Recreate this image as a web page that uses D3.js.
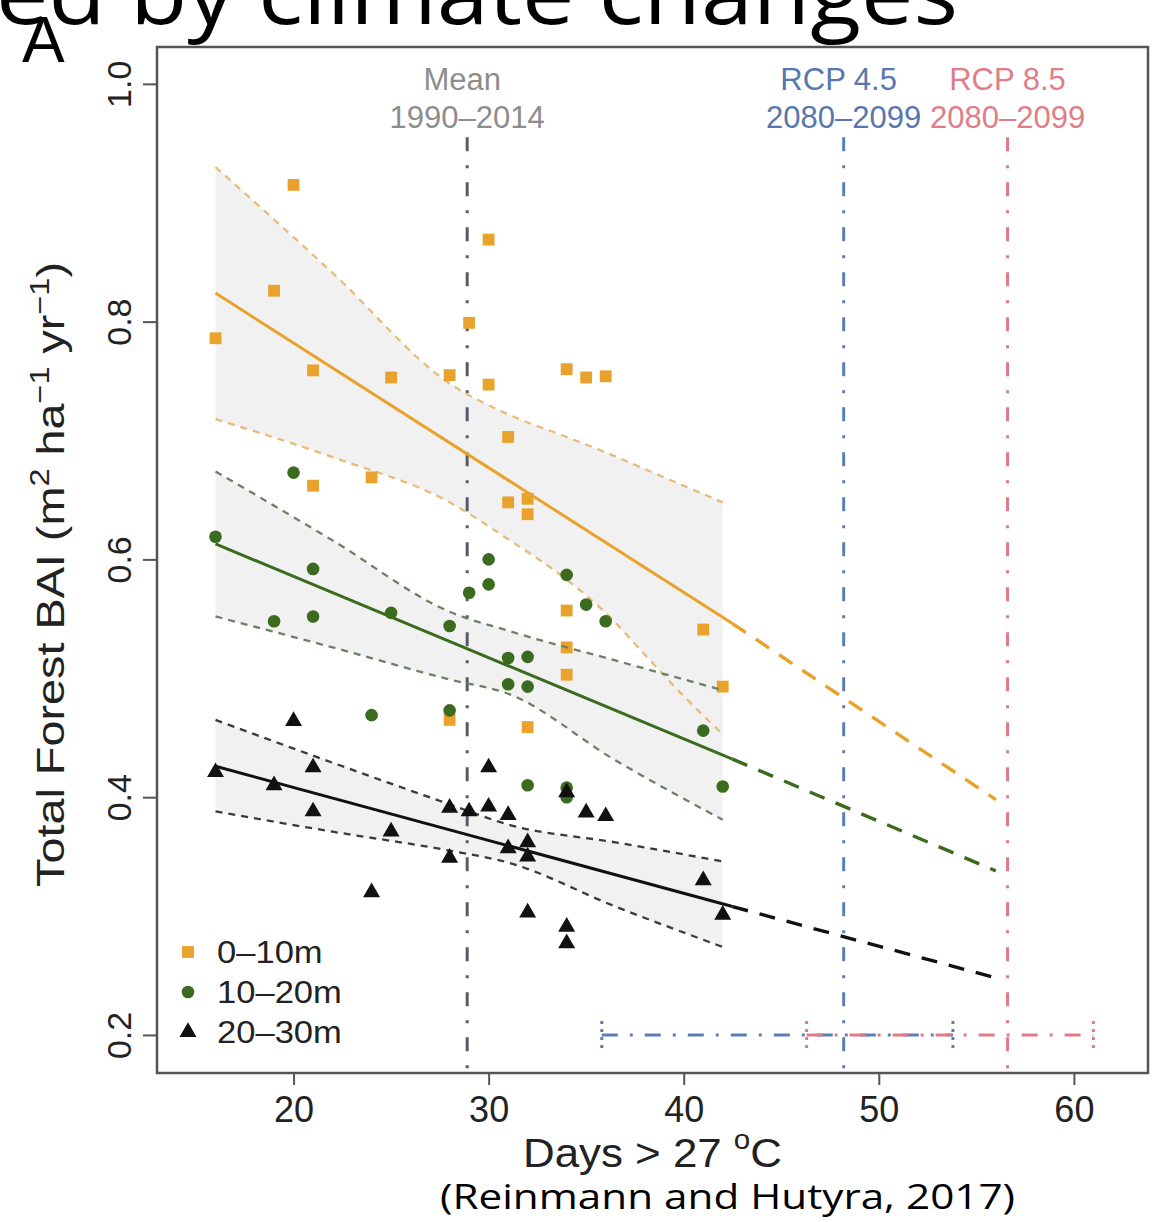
<!DOCTYPE html>
<html>
<head>
<meta charset="utf-8">
<script src="https://cdn.jsdelivr.net/npm/d3@7"></script>
<style>
  body { margin: 0; background: #fff; }
  svg { display: block; }
</style>
</head>
<body>
<svg id="chart"></svg>
<script>
// points: [days > 27 C, total forest BAI]
const shallow = [[16,.786],[19,.826],[20,.915],[21,.759],[21,.662],[24,.669],[25,.753],[28,.755],[28,.465],
  [29,.799],[30,.869],[30,.747],[31,.703],[31,.648],[32,.651],[32,.638],[32,.459],[34,.760],[34,.557],
  [34,.526],[34,.503],[35,.753],[36,.754],[41,.541],[42,.493]];
const middle = [[16,.619],[19,.548],[20,.673],[21,.592],[21,.552],[24,.469],[25,.555],[28,.544],[28,.473],
  [29,.572],[30,.600],[30,.579],[31,.517],[31,.495],[32,.518],[32,.493],[32,.410],[34,.587],[34,.408],
  [34,.400],[35,.562],[36,.548],[41,.456],[42,.409]];
const deep = [[16,.421],[19,.410],[20,.464],[21,.425],[21,.388],[24,.320],[25,.371],[28,.391],[28,.349],
  [29,.388],[30,.425],[30,.392],[31,.385],[31,.357],[32,.362],[32,.350],[32,.303],[34,.291],[34,.277],
  [34,.404],[35,.387],[36,.384],[41,.330],[42,.301]];

// fitted lines (observed range) and projections
const fitDays = [16, 42.5];
const projDays = [42.5, 56];
const shallowFit = [0.824, 0.546], shallowProj = [0.546, 0.398];
const middleFit = [0.613, 0.432], middleProj = [0.432, 0.338];
const deepFit = [0.426, 0.308], deepProj = [0.308, 0.248];

// confidence bands
const shallowBandDays = [16, 22, 28, 31, 34, 36, 38, 40, 42];
const shallowUpper = [0.930, 0.841, 0.748, 0.722, 0.703, 0.690, 0.676, 0.662, 0.648];
const shallowLower = [0.718, 0.686, 0.648, 0.617, 0.583, 0.555, 0.520, 0.485, 0.453];
const middleBandDays = [16, 22, 28, 31, 36.5, 42];
const middleUpper = [0.674, 0.616, 0.556, 0.540, 0.515, 0.490];
const middleLower = [0.552, 0.526, 0.499, 0.487, 0.431, 0.381];
const deepBandDays = [16, 22, 28, 31, 36.5, 42];
const deepUpper = [0.465, 0.429, 0.394, 0.377, 0.362, 0.346];
const deepLower = [0.388, 0.371, 0.355, 0.345, 0.308, 0.274];

// reference periods
const refDays = [28.9, 48.2, 56.6];
const refTop = 0.955;
const rangeStart = [35.8, 46.3];
const rangeEnd = [53.8, 61.0];

const xTicks = [20, 30, 40, 50, 60];
const yTicks = [0.2, 0.4, 0.6, 0.8, 1.0];
const legendLabels = ["0\u201310m", "10\u201320m", "20\u201330m"];

const width = 1153, height = 1222;
const margin = { top: 47, right: 5, bottom: 149, left: 157 };
const font = "'Liberation Sans', Arial, sans-serif";

const orange = "#e9a22c", green = "#3b6b1e", black = "#111111";
const blue = "#5a7fb6", pink = "#e07b86", meanGrey = "#565b68";

const svg = d3.select("#chart")
  .attr("width", width)
  .attr("height", height)
  .attr("viewBox", [0, 0, width, height])
  .style("font-family", font);

const x = d3.scaleLinear().domain([13.0, 63.8]).range([margin.left, width - margin.right]);
const y = d3.scaleLinear().domain([0.168, 1.031]).range([height - margin.bottom, margin.top]);

const series = [
  { key: "shallow", pts: shallow, color: orange, ciColor: "#e9bb78", shape: d3.symbolSquare, size: 140,
    fit: shallowFit, proj: shallowProj, band: shallowBandDays, up: shallowUpper, lo: shallowLower },
  { key: "middle", pts: middle, color: green, ciColor: "#6f7f62", shape: d3.symbolCircle, size: 125,
    fit: middleFit, proj: middleProj, band: middleBandDays, up: middleUpper, lo: middleLower },
  { key: "deep", pts: deep, color: black, ciColor: "#3a3a3a", shape: d3.symbolTriangle, size: 125,
    fit: deepFit, proj: deepProj, band: deepBandDays, up: deepUpper, lo: deepLower },
];

// grey confidence bands
const area = d3.area()
  .x(d => x(d[0]))
  .y0(d => y(d[1]))
  .y1(d => y(d[2]))
  .curve(d3.curveMonotoneX);

svg.append("g")
  .selectAll("path")
  .data(series)
  .join("path")
  .attr("fill", "#f1f1f1")
  .attr("d", s => area(s.band.map((dx, i) => [dx, s.lo[i], s.up[i]])));

// vertical reference lines
const refColor = [meanGrey, blue, pink];
svg.append("g")
  .selectAll("line")
  .data(refDays)
  .join("line")
  .attr("x1", d => x(d))
  .attr("x2", d => x(d))
  .attr("y1", y(refTop))
  .attr("y2", y.range()[0])
  .attr("stroke", (d, i) => refColor[i])
  .attr("stroke-width", 3)
  .attr("stroke-dasharray", "14,14,3,14");

// projected ranges along the bottom
const ranges = svg.append("g");
rangeStart.forEach((s, i) => {
  const c = i === 0 ? blue : pink;
  ranges.append("line")
    .attr("x1", x(s)).attr("x2", x(rangeEnd[i]))
    .attr("y1", y(0.2)).attr("y2", y(0.2))
    .attr("stroke", c).attr("stroke-width", 3)
    .attr("stroke-dasharray", "16,12,3,12");
  [s, rangeEnd[i]].forEach(v => {
    ranges.append("line")
      .attr("x1", x(v)).attr("x2", x(v))
      .attr("y1", y(0.2) - 14).attr("y2", y(0.2) + 14)
      .attr("stroke", c).attr("stroke-width", 3)
      .attr("stroke-dasharray", "3,5");
  });
});

const line = d3.line().x(d => x(d[0])).y(d => y(d[1]));
const ciLine = d3.line().x(d => x(d[0])).y(d => y(d[1])).curve(d3.curveMonotoneX);

const groups = svg.append("g")
  .selectAll("g")
  .data(series)
  .join("g");

// dashed confidence limits
groups.append("path")
  .attr("fill", "none")
  .attr("stroke", s => s.ciColor)
  .attr("stroke-width", 2.3)
  .attr("stroke-dasharray", "7,6")
  .attr("d", s => ciLine(s.band.map((dx, i) => [dx, s.up[i]])));
groups.append("path")
  .attr("fill", "none")
  .attr("stroke", s => s.ciColor)
  .attr("stroke-width", 2.3)
  .attr("stroke-dasharray", "7,6")
  .attr("d", s => ciLine(s.band.map((dx, i) => [dx, s.lo[i]])));

// fitted line
groups.append("path")
  .attr("fill", "none")
  .attr("stroke", s => s.color)
  .attr("stroke-width", 3)
  .attr("d", s => line(fitDays.map((dx, i) => [dx, s.fit[i]])));

// projection
groups.append("path")
  .attr("fill", "none")
  .attr("stroke", s => s.color)
  .attr("stroke-width", 3.4)
  .attr("stroke-dasharray", "16,12")
  .attr("d", s => line(projDays.map((dx, i) => [dx, s.proj[i]])));

// points
groups.each(function (s) {
  d3.select(this).append("g")
    .selectAll("path")
    .data(s.pts)
    .join("path")
    .attr("transform", d => `translate(${x(d[0])},${y(d[1])})`)
    .attr("d", d3.symbol(s.shape, s.size))
    .attr("fill", s.color);
});

// axes
const xAxis = svg.append("g")
  .attr("transform", `translate(0,${y.range()[0]})`)
  .call(d3.axisBottom(x).tickValues(xTicks).tickSize(12).tickSizeOuter(0));
xAxis.select(".domain").remove();
xAxis.selectAll(".tick line").attr("stroke", "#555").attr("stroke-width", 2);
xAxis.selectAll(".tick text")
  .attr("y", 49).attr("dy", 0)
  .style("font", `36px ${font}`)
  .attr("fill", "#222");

const yAxis = svg.append("g")
  .attr("transform", `translate(${x.range()[0]},0)`)
  .call(d3.axisLeft(y).tickValues(yTicks).tickFormat(d3.format(".1f")).tickSize(14).tickSizeOuter(0));
yAxis.select(".domain").remove();
yAxis.selectAll(".tick line").attr("stroke", "#555").attr("stroke-width", 2);
yAxis.selectAll(".tick text")
  .attr("x", 0).attr("dy", 0)
  .attr("transform", "translate(-26,0) rotate(-90)")
  .attr("text-anchor", "middle")
  .style("font", `34px ${font}`)
  .attr("fill", "#222");

// plot frame
svg.append("rect")
  .attr("x", x.range()[0]).attr("y", y.range()[1])
  .attr("width", x.range()[1] - x.range()[0])
  .attr("height", y.range()[0] - y.range()[1])
  .attr("fill", "none")
  .attr("stroke", "#555")
  .attr("stroke-width", 2.5);

// reference labels
const refLabels = [
  { top: "Mean", bottom: "1990\u20132014", color: "#8d8d8d", dx: -5 },
  { top: "RCP 4.5", bottom: "2080\u20132099", color: "#5878ad", dx: -5 },
  { top: "RCP 8.5", bottom: "2080\u20132099", color: "#e07d88", dx: 0 },
];
refLabels.forEach((l, i) => {
  const g = svg.append("g")
    .attr("fill", l.color)
    .attr("text-anchor", "middle")
    .style("font", `31px ${font}`);
  g.append("text").attr("x", x(refDays[i]) + l.dx).attr("y", 90).text(l.top);
  g.append("text").attr("x", x(refDays[i])).attr("y", 128).text(l.bottom);
});

// legend
const legend = svg.append("g")
  .selectAll("g")
  .data(series)
  .join("g")
  .attr("transform", (d, i) => `translate(188,${952 + i * 40})`);
legend.append("path")
  .attr("d", s => d3.symbol(s.shape, s.size)())
  .attr("fill", s => s.color);
legend.append("text")
  .attr("transform", "translate(29,11) scale(1.08,1)")
  .style("font", `32px ${font}`)
  .attr("fill", "#222")
  .text((d, i) => legendLabels[i]);

// axis titles
const xTitle = svg.append("text")
  .attr("x", 523).attr("y", 1167)
  .attr("textLength", 259)
  .attr("lengthAdjust", "spacingAndGlyphs")
  .style("font", `40px ${font}`)
  .attr("fill", "#222");
xTitle.append("tspan").text("Days > 27 ");
xTitle.append("tspan").attr("dy", -18).style("font-size", "27px").text("o");
xTitle.append("tspan").attr("dy", 18).text("C");

const yTitle = svg.append("text")
  .attr("transform", "translate(64,887) rotate(-90)")
  .attr("textLength", 625)
  .attr("lengthAdjust", "spacingAndGlyphs")
  .style("font", `39px ${font}`)
  .attr("fill", "#222");
yTitle.append("tspan").text("Total Forest BAI (m");
yTitle.append("tspan").attr("dy", -15).style("font-size", "27px").text("2");
yTitle.append("tspan").attr("dy", 15).text(" ha");
yTitle.append("tspan").attr("dy", -15).style("font-size", "27px").text("\u22121");
yTitle.append("tspan").attr("dy", 15).text(" yr");
yTitle.append("tspan").attr("dy", -15).style("font-size", "27px").text("\u22121");
yTitle.append("tspan").attr("dy", 15).text(")");

// slide text around the figure
svg.append("text")
  .attr("x", -4).attr("y", 24)
  .attr("textLength", 962)
  .attr("lengthAdjust", "spacingAndGlyphs")
  .style("font", "86px 'Open Sans', sans-serif")
  .attr("fill", "#000")
  .text("ed by climate changes");

svg.append("text")
  .attr("x", 22).attr("y", 62)
  .style("font", `64px ${font}`)
  .attr("fill", "#000")
  .text("A");

svg.append("text")
  .attr("x", 440).attr("y", 1209)
  .attr("textLength", 575)
  .attr("lengthAdjust", "spacingAndGlyphs")
  .style("font", "34px 'Open Sans', sans-serif")
  .attr("fill", "#000")
  .text("(Reinmann and Hutyra, 2017)");
</script>
</body>
</html>
